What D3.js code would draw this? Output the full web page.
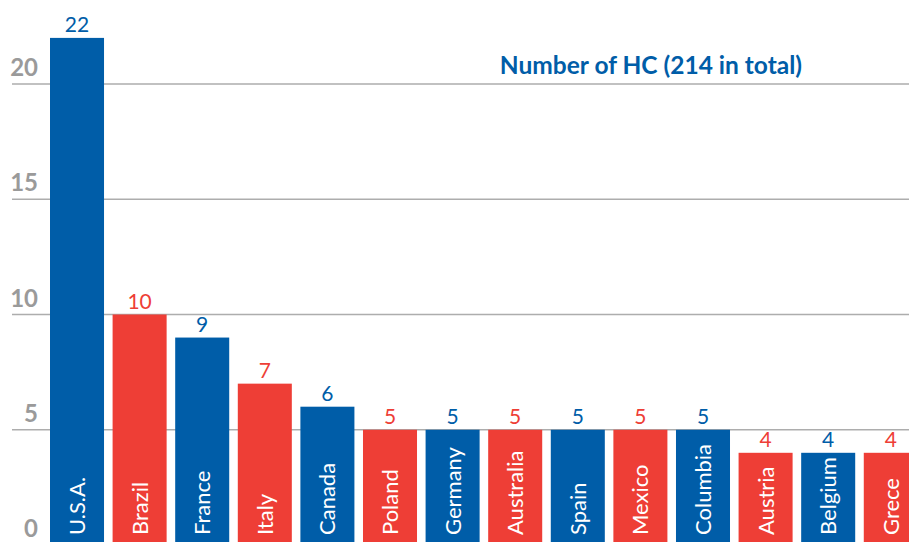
<!DOCTYPE html>
<html><head><meta charset="utf-8">
<script src="https://cdn.jsdelivr.net/npm/d3@7"></script>
<style>body{margin:0;background:#fff;}svg{display:block;font-family:Lato, "Open Sans", sans-serif;}</style>
</head><body>
<svg id="c" width="909" height="542"></svg>
<script>
const countries = ["U.S.A.","Brazil","France","Italy","Canada","Poland","Germany","Australia","Spain","Mexico","Columbia","Austria","Belgium","Grece"];
const values = [22,10,9,7,6,5,5,5,5,5,5,4,4,4];
const colorKeys = ["blue","red","blue","red","blue","red","blue","red","blue","red","blue","red","blue","red"];
const yTicks = [0,5,10,15,20];
const title = "Number of HC (214 in total)";
const palette = {blue:"#005DA8", red:"#EE3E36"};

const svg = d3.select("#c");
const y = d3.scaleLinear().domain([0,20]).range([545,84]);
const x = d3.scaleBand().domain(countries).range([50,917.8]).paddingInner(0.137).paddingOuter(0);

// gridlines
svg.append("g").selectAll("line").data(yTicks.filter(d=>d>0)).join("line")
  .attr("x1",12).attr("x2",909).attr("y1",d=>y(d)).attr("y2",d=>y(d))
  .attr("stroke","#adadad").attr("stroke-width",1.6);

// y labels
svg.append("g").selectAll("text").data(yTicks).join("text")
  .attr("x",38).attr("y",d=>d===0? 537 : y(d)-8)
  .attr("text-anchor","end").attr("fill","#9a9a9a")
  .attr("font-weight","bold").attr("font-size",24).text(d=>d);

// bars
svg.append("g").selectAll("rect").data(countries).join("rect")
  .attr("x",d=>x(d)).attr("width",x.bandwidth())
  .attr("y",(d,i)=>y(values[i])).attr("height",(d,i)=>y(0)-y(values[i]))
  .attr("fill",(d,i)=>palette[colorKeys[i]]);

// value labels
svg.append("g").selectAll("text").data(countries).join("text")
  .attr("x",d=>x(d)+x.bandwidth()/2).attr("y",(d,i)=>y(values[i])-6)
  .attr("text-anchor","middle").attr("font-size",21)
  .attr("fill",(d,i)=>palette[colorKeys[i]]).text((d,i)=>values[i]);

// country labels
svg.append("g").selectAll("text").data(countries).join("text")
  .attr("transform",d=>`translate(${x(d)+x.bandwidth()/2+8},535) rotate(-90)`)
  .attr("text-anchor","start").attr("font-size",22).attr("fill","#fff").text(d=>d);

// title
svg.append("text").attr("x",802).attr("y",74).attr("text-anchor","end")
  .attr("font-size",24.5).attr("font-weight","bold").attr("fill","#005DA8").text(title);
</script>
</body></html>
